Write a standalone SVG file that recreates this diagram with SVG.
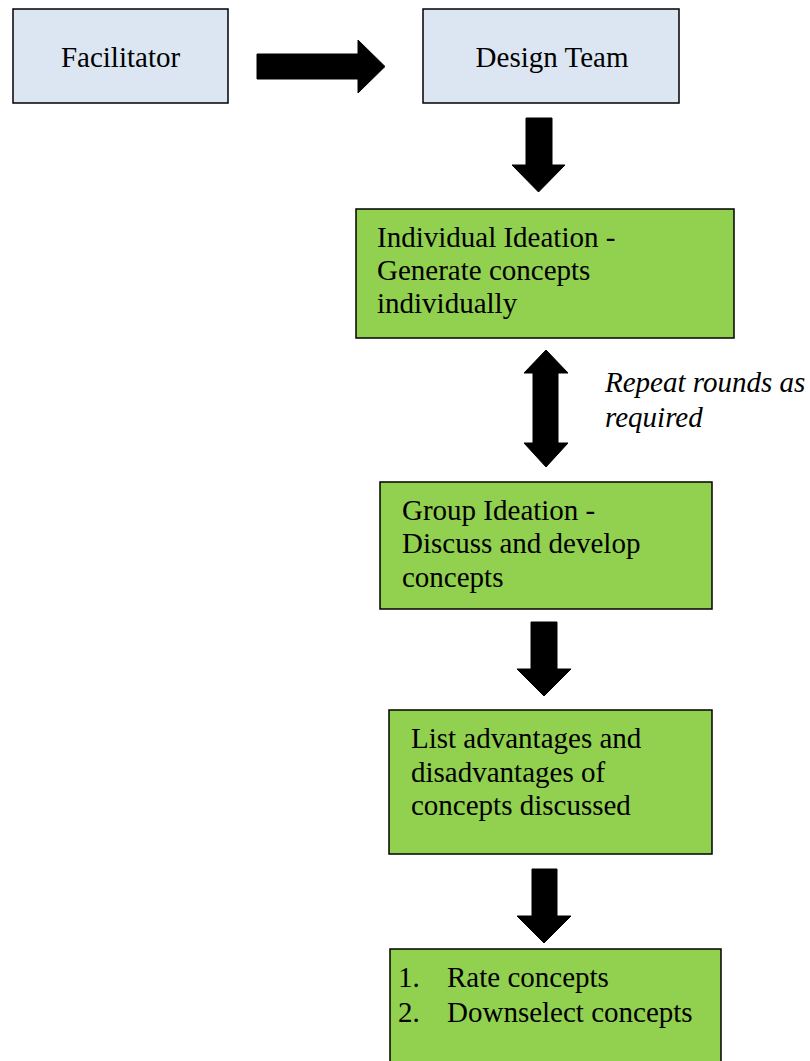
<svg xmlns="http://www.w3.org/2000/svg" width="810" height="1061" viewBox="0 0 810 1061">
<style>
.box{stroke:#000;stroke-width:1.5}
.blue{fill:#dce6f2}
.green{fill:#92d050}
.t{font-family:"Liberation Serif","Times New Roman",serif;font-size:29px;fill:#000}
.it{font-style:italic}
.arr{fill:#000;stroke:#000;stroke-width:1;stroke-linejoin:round}
</style>
<rect width="810" height="1061" fill="#fff"/>
<g id="facilitator">
<rect class="box blue" x="13" y="9" width="215" height="94"/>
<text class="t" x="120.5" y="67" text-anchor="middle">Facilitator</text>
</g>
<g id="design-team">
<rect class="box blue" x="423" y="9" width="256" height="94"/>
<text class="t" x="552" y="67" text-anchor="middle">Design Team</text>
</g>
<g id="individual-ideation">
<rect class="box green" x="356" y="209" width="378" height="129"/>
<text class="t" x="377" y="247">Individual Ideation -</text>
<text class="t" x="377" y="280">Generate concepts</text>
<text class="t" x="377" y="313">individually</text>
</g>
<g id="repeat-label">
<text class="t it" x="605" y="392">Repeat rounds as</text>
<text class="t it" x="605" y="427">required</text>
</g>
<g id="group-ideation">
<rect class="box green" x="380" y="482" width="332" height="127"/>
<text class="t" x="402" y="520">Group Ideation -</text>
<text class="t" x="402" y="553">Discuss and develop</text>
<text class="t" x="402" y="587">concepts</text>
</g>
<g id="list-advantages">
<rect class="box green" x="389" y="710" width="323" height="144"/>
<text class="t" x="411" y="748">List advantages and</text>
<text class="t" x="411" y="782">disadvantages of</text>
<text class="t" x="411" y="815">concepts discussed</text>
</g>
<g id="rate-concepts">
<path class="green" d="M390,1062 V949 H721 V1062 Z"/>
<path d="M390,1062 V949 H721 V1062" fill="none" stroke="#000" stroke-width="1.5"/>
<text class="t" x="398" y="987">1.</text>
<text class="t" x="447" y="987">Rate concepts</text>
<text class="t" x="398" y="1022">2.</text>
<text class="t" x="447" y="1022">Downselect concepts</text>
</g>
<g id="connectors">
<polygon class="arr" points="257,54 358,54 358,40 385,66.5 358,93 358,79 257,79"/>
<polygon class="arr" points="526,118 552,118 552,165 565,165 538.5,192 512,165 526,165"/>
<polygon class="arr" points="546,350 568,373 558,373 558,443 568,443 546,467 524,443 533,443 533,373 524,373"/>
<polygon class="arr" points="531,622 557,622 557,669 571,669 544,696 517,669 531,669"/>
<polygon class="arr" points="532,869 557,869 557,916 571,916 544,943 517,916 532,916"/>
</g>
</svg>
